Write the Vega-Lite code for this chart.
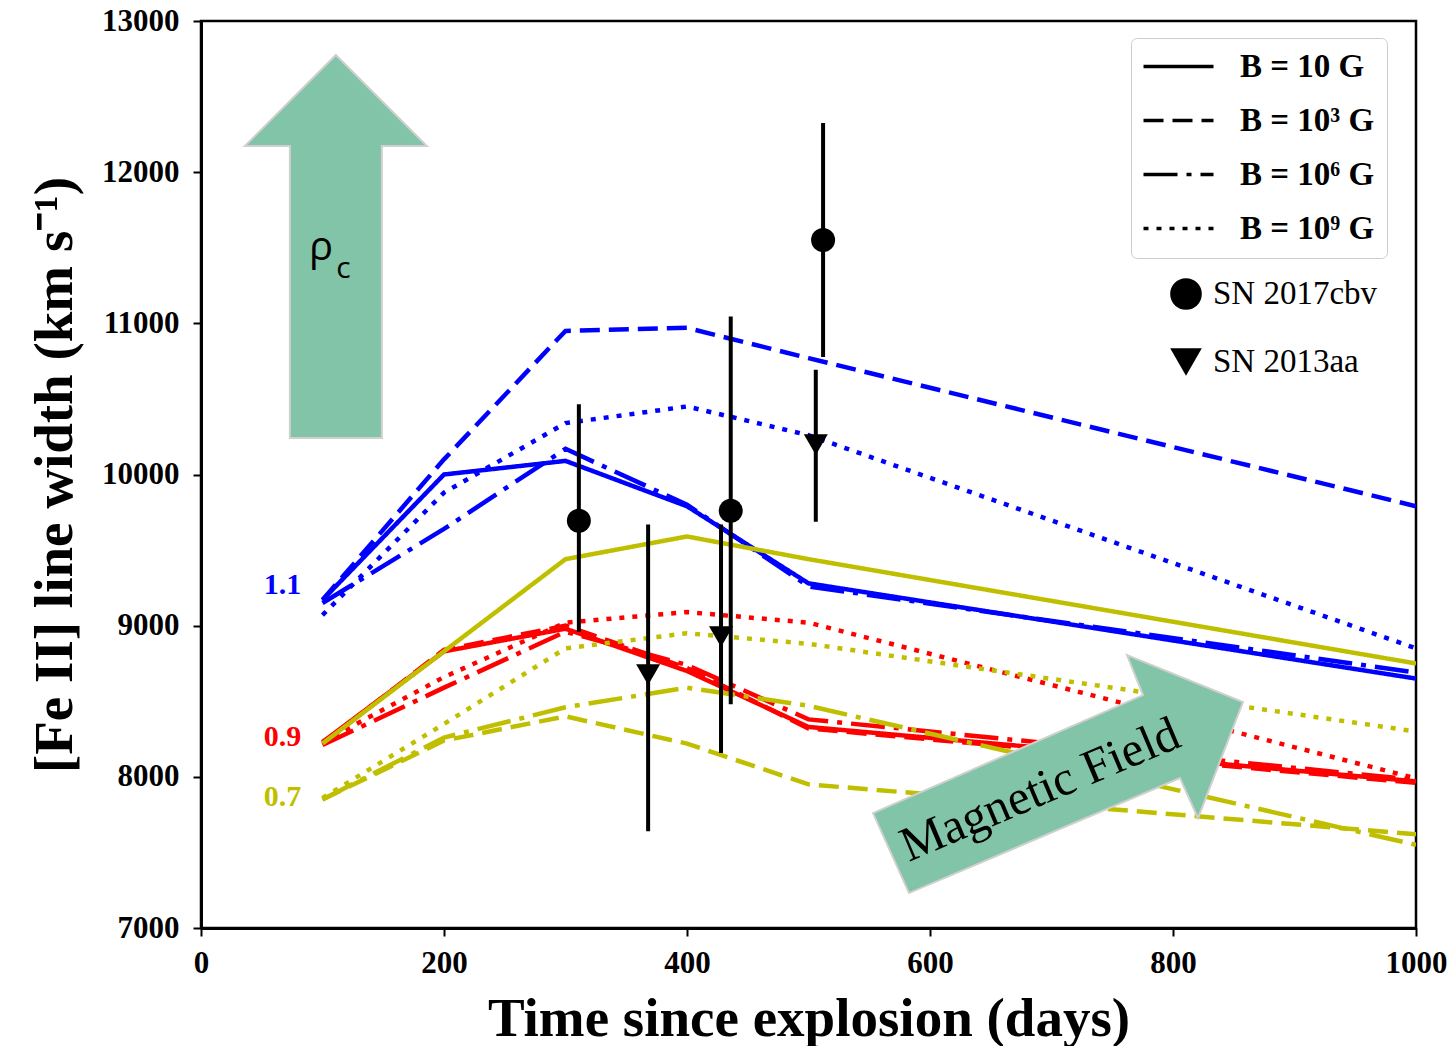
{
  "$schema": "https://vega.github.io/schema/vega-lite/v6.json",
  "width": 1215,
  "height": 907,
  "autosize": {"type": "none"},
  "padding": {"left": 201, "top": 21, "right": 39, "bottom": 118},
  "background": "white",
  "config": {
    "view": {"stroke": "black", "strokeWidth": 2.5},
    "axis": {
      "domainColor": "black", "domainWidth": 3, "tickColor": "black", "tickWidth": 2, "tickSize": 8,
      "grid": false, "labelFont": "Liberation Serif", "labelFontWeight": "bold", "labelFontSize": 31,
      "labelColor": "black", "titleFont": "Liberation Serif", "titleFontWeight": "bold", "titleFontSize": 55,
      "titleColor": "black", "labelFlush": false, "labelOverlap": false
    }
  },
  "datasets": {
    "lines": [
      {"t":100,"w":9170,"rho":"1.1","B":"B = 10 G"},{"t":200,"w":10000,"rho":"1.1","B":"B = 10 G"},{"t":300,"w":10090,"rho":"1.1","B":"B = 10 G"},{"t":400,"w":9790,"rho":"1.1","B":"B = 10 G"},{"t":500,"w":9280,"rho":"1.1","B":"B = 10 G"},{"t":1000,"w":8650,"rho":"1.1","B":"B = 10 G"},
      {"t":100,"w":9170,"rho":"1.1","B":"B = 10³ G"},{"t":200,"w":10100,"rho":"1.1","B":"B = 10³ G"},{"t":300,"w":10950,"rho":"1.1","B":"B = 10³ G"},{"t":400,"w":10970,"rho":"1.1","B":"B = 10³ G"},{"t":500,"w":10770,"rho":"1.1","B":"B = 10³ G"},{"t":1000,"w":9790,"rho":"1.1","B":"B = 10³ G"},
      {"t":100,"w":9150,"rho":"1.1","B":"B = 10⁶ G"},{"t":200,"w":9640,"rho":"1.1","B":"B = 10⁶ G"},{"t":300,"w":10170,"rho":"1.1","B":"B = 10⁶ G"},{"t":400,"w":9800,"rho":"1.1","B":"B = 10⁶ G"},{"t":500,"w":9260,"rho":"1.1","B":"B = 10⁶ G"},{"t":1000,"w":8690,"rho":"1.1","B":"B = 10⁶ G"},
      {"t":100,"w":9070,"rho":"1.1","B":"B = 10⁹ G"},{"t":200,"w":9880,"rho":"1.1","B":"B = 10⁹ G"},{"t":300,"w":10340,"rho":"1.1","B":"B = 10⁹ G"},{"t":400,"w":10450,"rho":"1.1","B":"B = 10⁹ G"},{"t":500,"w":10260,"rho":"1.1","B":"B = 10⁹ G"},{"t":1000,"w":8850,"rho":"1.1","B":"B = 10⁹ G"},
      {"t":100,"w":8230,"rho":"0.9","B":"B = 10 G"},{"t":200,"w":8830,"rho":"0.9","B":"B = 10 G"},{"t":300,"w":8980,"rho":"0.9","B":"B = 10 G"},{"t":400,"w":8700,"rho":"0.9","B":"B = 10 G"},{"t":500,"w":8330,"rho":"0.9","B":"B = 10 G"},{"t":1000,"w":7970,"rho":"0.9","B":"B = 10 G"},
      {"t":100,"w":8220,"rho":"0.9","B":"B = 10³ G"},{"t":200,"w":8840,"rho":"0.9","B":"B = 10³ G"},{"t":300,"w":9000,"rho":"0.9","B":"B = 10³ G"},{"t":400,"w":8720,"rho":"0.9","B":"B = 10³ G"},{"t":500,"w":8320,"rho":"0.9","B":"B = 10³ G"},{"t":1000,"w":7960,"rho":"0.9","B":"B = 10³ G"},
      {"t":100,"w":8210,"rho":"0.9","B":"B = 10⁶ G"},{"t":200,"w":8590,"rho":"0.9","B":"B = 10⁶ G"},{"t":300,"w":8960,"rho":"0.9","B":"B = 10⁶ G"},{"t":400,"w":8740,"rho":"0.9","B":"B = 10⁶ G"},{"t":500,"w":8380,"rho":"0.9","B":"B = 10⁶ G"},{"t":1000,"w":7980,"rho":"0.9","B":"B = 10⁶ G"},
      {"t":100,"w":8230,"rho":"0.9","B":"B = 10⁹ G"},{"t":200,"w":8660,"rho":"0.9","B":"B = 10⁹ G"},{"t":300,"w":9020,"rho":"0.9","B":"B = 10⁹ G"},{"t":400,"w":9090,"rho":"0.9","B":"B = 10⁹ G"},{"t":500,"w":9020,"rho":"0.9","B":"B = 10⁹ G"},{"t":1000,"w":7990,"rho":"0.9","B":"B = 10⁹ G"},
      {"t":100,"w":8220,"rho":"0.7","B":"B = 10 G"},{"t":200,"w":8830,"rho":"0.7","B":"B = 10 G"},{"t":300,"w":9440,"rho":"0.7","B":"B = 10 G"},{"t":400,"w":9590,"rho":"0.7","B":"B = 10 G"},{"t":500,"w":9440,"rho":"0.7","B":"B = 10 G"},{"t":1000,"w":8750,"rho":"0.7","B":"B = 10 G"},
      {"t":100,"w":7850,"rho":"0.7","B":"B = 10³ G"},{"t":200,"w":8240,"rho":"0.7","B":"B = 10³ G"},{"t":300,"w":8400,"rho":"0.7","B":"B = 10³ G"},{"t":400,"w":8220,"rho":"0.7","B":"B = 10³ G"},{"t":500,"w":7950,"rho":"0.7","B":"B = 10³ G"},{"t":1000,"w":7620,"rho":"0.7","B":"B = 10³ G"},
      {"t":100,"w":7850,"rho":"0.7","B":"B = 10⁶ G"},{"t":200,"w":8260,"rho":"0.7","B":"B = 10⁶ G"},{"t":300,"w":8460,"rho":"0.7","B":"B = 10⁶ G"},{"t":400,"w":8590,"rho":"0.7","B":"B = 10⁶ G"},{"t":500,"w":8470,"rho":"0.7","B":"B = 10⁶ G"},{"t":1000,"w":7550,"rho":"0.7","B":"B = 10⁶ G"},
      {"t":100,"w":7860,"rho":"0.7","B":"B = 10⁹ G"},{"t":200,"w":8350,"rho":"0.7","B":"B = 10⁹ G"},{"t":300,"w":8850,"rho":"0.7","B":"B = 10⁹ G"},{"t":400,"w":8950,"rho":"0.7","B":"B = 10⁹ G"},{"t":500,"w":8880,"rho":"0.7","B":"B = 10⁹ G"},{"t":1000,"w":8300,"rho":"0.7","B":"B = 10⁹ G"}
    ],
    "obs": [
      {"t":311,"w":9694,"lo":8960,"hi":10464,"sn":"SN 2017cbv"},
      {"t":436,"w":9760,"lo":8480,"hi":11045,"sn":"SN 2017cbv"},
      {"t":512,"w":11551,"lo":10777,"hi":12325,"sn":"SN 2017cbv"},
      {"t":368,"w":8676,"lo":7640,"hi":9670,"sn":"SN 2013aa"},
      {"t":428,"w":8927,"lo":8158,"hi":9670,"sn":"SN 2013aa"},
      {"t":506,"w":10197,"lo":9688,"hi":10693,"sn":"SN 2013aa"}
    ],
    "labels": [
      {"t":67,"w":9269,"rho":"1.1","lab":"1.1"},
      {"t":67,"w":8263,"rho":"0.9","lab":"0.9"},
      {"t":67,"w":7867,"rho":"0.7","lab":"0.7"}
    ]
  },
  "encoding": {
    "x": {"field": "t", "type": "quantitative", "scale": {"domain": [0, 1000]},
      "axis": {"values": [0,200,400,600,800,1000], "format": "d", "title": "Time since explosion (days)", "labelPadding": 12, "titlePadding": 14}},
    "y": {"field": "w", "type": "quantitative", "scale": {"domain": [7000, 13000]},
      "axis": {"values": [7000,8000,9000,10000,11000,12000,13000], "format": "d", "title": "[Fe II] line width (km s⁻¹)", "labelPadding": 14, "titlePadding": 18}}
  },
  "layer": [
    {
      "data": {"name": "lines"},
      "mark": {"type": "line", "strokeWidth": 4.5, "clip": true},
      "encoding": {
        "color": {"field": "rho", "type": "nominal", "scale": {"domain": ["1.1","0.9","0.7"], "range": ["#0000ff","#ff0000","#bfbf00"]}, "legend": null},
        "strokeDash": {"field": "B", "type": "nominal",
          "scale": {"domain": ["B = 10 G","B = 10³ G","B = 10⁶ G","B = 10⁹ G"], "range": [[1,0],[20,9],[34,9,5,9],[5,8]]},
          "legend": {"title": null, "orient": "none", "legendX": 930, "legendY": 17,
            "symbolType": "M-16,0L54,0", "symbolSize": 4, "symbolStrokeWidth": 3.5, "symbolStrokeColor": "black",
            "labelFont": "Liberation Serif", "labelFontWeight": "bold", "labelFontSize": 33, "labelColor": "black",
            "labelOffset": 64, "rowPadding": 20, "padding": 12, "strokeColor": "#cccccc", "fillColor": "white",
            "cornerRadius": 6, "labelLimit": 400}}
      }
    },
    {
      "data": {"values": [{"t": 111, "w": 11512}]},
      "mark": {"type": "point", "shape": "M0,-191 L91,-100 L46,-100 L46,192 L-46,192 L-46,-100 L-91,-100 Z", "size": 4, "filled": true, "color": "#82C4A7", "stroke": "#d0d0d0", "strokeWidth": 2, "opacity": 1}
    },
    {
      "data": {"values": [{"t": 707, "w": 8111}]},
      "mark": {"type": "point", "shape": "M-187,53 L83,-65 L67,-105 L183,-58 L138,58 L120,18 L-151,133 Z", "size": 4, "filled": true, "color": "#82C4A7", "stroke": "#d0d0d0", "strokeWidth": 2, "opacity": 1}
    },
    {
      "data": {"values": [{"t": 98.8, "w": 11419, "lab": "ρ"}]},
      "mark": {"type": "text", "font": "Open Sans", "fontSize": 40, "align": "center", "baseline": "alphabetic", "color": "black"},
      "encoding": {"text": {"field": "lab"}}
    },
    {
      "data": {"values": [{"t": 117.3, "w": 11300, "lab": "c"}]},
      "mark": {"type": "text", "font": "Open Sans", "fontSize": 30, "align": "center", "baseline": "alphabetic", "color": "black"},
      "encoding": {"text": {"field": "lab"}}
    },
    {
      "data": {"values": [{"t": 690.5, "w": 7913, "lab": "Magnetic Field"}]},
      "mark": {"type": "text", "font": "Liberation Serif", "fontSize": 49, "align": "center", "baseline": "middle", "angle": -23, "color": "black"},
      "encoding": {"text": {"field": "lab"}}
    },
    {
      "data": {"name": "labels"},
      "mark": {"type": "text", "font": "Liberation Serif", "fontSize": 30, "fontWeight": "bold", "align": "center", "baseline": "middle"},
      "encoding": {
        "text": {"field": "lab"},
        "color": {"field": "rho", "type": "nominal", "scale": {"domain": ["1.1","0.9","0.7"], "range": ["#0000ff","#ff0000","#bfbf00"]}, "legend": null}
      }
    },
    {
      "data": {"name": "obs"},
      "mark": {"type": "rule", "strokeWidth": 4, "color": "black"},
      "encoding": {
        "y": {"field": "lo", "type": "quantitative", "scale": {"domain": [7000, 13000]},
          "axis": {"values": [7000,8000,9000,10000,11000,12000,13000], "format": "d", "title": "[Fe II] line width (km s⁻¹)", "labelPadding": 14, "titlePadding": 18}},
        "y2": {"field": "hi"}
      }
    },
    {
      "data": {"name": "obs"},
      "mark": {"type": "point", "filled": true, "color": "black", "size": 576, "opacity": 1},
      "encoding": {
        "shape": {"field": "sn", "type": "nominal", "scale": {"domain": ["SN 2017cbv","SN 2013aa"], "range": ["circle","triangle-down"]},
          "legend": {"title": null, "orient": "none", "legendX": 968, "legendY": 256,
            "symbolSize": 1000, "symbolFillColor": "black", "symbolStrokeColor": "#cccccc", "symbolStrokeWidth": 1.5, "symbolOpacity": 1,
            "labelFont": "Liberation Serif", "labelFontSize": 33, "labelColor": "black", "labelOffset": 10, "rowPadding": 32, "padding": 0, "labelLimit": 400}}
      }
    }
  ]
}
